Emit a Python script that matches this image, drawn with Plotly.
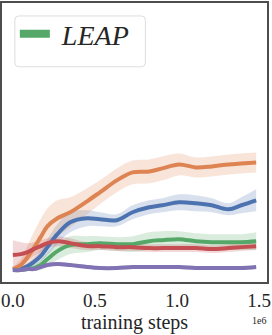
import plotly.graph_objects as go

# training steps (x 1e6)
steps = [0.0, 0.048, 0.09, 0.127, 0.169, 0.211, 0.271, 0.349, 0.452, 0.530,
         0.633, 0.729, 0.831, 0.910, 1.012, 1.114, 1.211, 1.313, 1.392, 1.482]

orange_mean = [2, 6, 14, 23, 34, 45, 53, 59, 70, 79, 91, 99, 100, 103, 107, 104, 105, 107, 108, 109]
orange_std = [2, 6, 12, 16, 18, 18, 18, 15, 13, 12, 12, 12, 12, 12, 11, 10, 10, 10, 10, 10]

blue_mean = [1, 2, 5, 9, 15, 24, 37, 49, 53, 52, 51, 59, 64, 66, 69, 68, 66, 62, 66, 71]
blue_std = [1, 2, 3, 4, 6, 8, 10, 10, 8, 7, 6, 7, 7, 7, 8, 8, 7, 6, 8, 11]

leap_mean = [1, 1, 2, 3, 6, 12, 20, 26, 27, 28, 27, 27, 30, 31, 32, 30, 29, 29, 29, 30]
leap_std = [1, 1, 2, 3, 5, 7, 9, 9, 8, 7, 7, 8, 9, 9, 8, 8, 8, 8, 8, 9]

red_mean = [16, 17, 19, 22, 25, 28, 30, 28, 25, 25, 24, 24, 23, 23, 23, 23, 22, 23, 24, 25]
red_std = [15, 12, 9, 7, 6, 5, 5, 5, 4, 4, 4, 4, 4, 4, 4, 4, 4, 4, 4, 4]

purple_mean = [1, 1, 2, 2, 4, 6, 7, 6, 4, 3, 3, 4, 4, 4, 4, 3, 3, 3, 3, 4]
purple_std = [1, 1, 1, 1, 1.5, 2, 2, 2, 2, 2, 2, 2, 2, 2, 2, 2, 2, 2, 2, 2]

x_ticks = [0.0, 0.5, 1.0, 1.5]
x_tick_labels = ["0.0", "0.5", "1.0", "1.5"]

series = [
    ("baseline A", blue_mean, blue_std, "#4C72B0", "rgba(76,114,176,0.22)", False),
    ("baseline B", orange_mean, orange_std, "#DD8452", "rgba(221,132,82,0.22)", False),
    ("LEAP", leap_mean, leap_std, "#55A868", "rgba(85,168,104,0.22)", True),
    ("baseline C", red_mean, red_std, "#C44E52", "rgba(196,78,82,0.22)", False),
    ("baseline D", purple_mean, purple_std, "#8172B3", "rgba(129,114,179,0.22)", False),
]

FONT = "Liberation Serif"
xs = [s * 1e6 for s in steps]

fig = go.Figure()
for name, m, sd, col, fcol, show in series:
    lo = [a - b for a, b in zip(m, sd)]
    hi = [a + b for a, b in zip(m, sd)]
    fig.add_trace(go.Scatter(x=xs, y=lo, mode="lines", line=dict(width=0, shape="spline"),
                             showlegend=False, hoverinfo="skip"))
    fig.add_trace(go.Scatter(x=xs, y=hi, mode="lines", line=dict(width=0, shape="spline"),
                             fill="tonexty", fillcolor=fcol, showlegend=False, hoverinfo="skip"))
for name, m, sd, col, fcol, show in series:
    fig.add_trace(go.Scatter(x=xs, y=m, mode="lines", name=name,
                             line=dict(color=col, width=4, shape="spline"),
                             showlegend=False, legendgroup=name))
    if show:
        # legend entry (thicker key line, as in the reference)
        fig.add_trace(go.Scatter(x=[None], y=[None], mode="lines",
                                 name="\u00a0<i>" + name + "</i>", legendgroup=name,
                                 line=dict(color=col, width=8), showlegend=True))

# rounded legend frame (pixel -> paper)
W, H = 268.0, 280.0
bx0, bx1 = (14 - 1) / W, (146 - 1) / W
by0, by1 = (281 - 65) / H, (281 - 14) / H
rx, ry = 4 / W, 4 / H
path = (f"M {bx0+rx},{by0} L {bx1-rx},{by0} Q {bx1},{by0} {bx1},{by0+ry} "
        f"L {bx1},{by1-ry} Q {bx1},{by1} {bx1-rx},{by1} L {bx0+rx},{by1} "
        f"Q {bx0},{by1} {bx0},{by1-ry} L {bx0},{by0+ry} Q {bx0},{by0} {bx0+rx},{by0} Z")

fig.update_layout(
    width=272, height=335,
    margin=dict(l=1, r=3, t=1, b=53),
    paper_bgcolor="white", plot_bgcolor="white",
    font=dict(family=FONT, color="#262626", size=18),
    shapes=[dict(type="path", path=path, xref="paper", yref="paper",
                 line=dict(color="#dddddd", width=1), fillcolor="rgba(255,255,255,0.8)",
                 layer="below")],
    legend=dict(x=bx0, y=(281 - 7) / H, xanchor="left", yanchor="top",
                bgcolor="rgba(0,0,0,0)", borderwidth=0,
                font=dict(family=FONT, size=28, color="#262626"),
                itemwidth=30),
    annotations=[dict(text="1e6", x=(261 - 1) / W, y=(281 - 312) / H, xref="paper", yref="paper",
                      xanchor="center", yanchor="top",
                      showarrow=False, font=dict(size=10, family=FONT, color="#262626"))],
    showlegend=True,
)
fig.update_xaxes(range=[-0.0663e6, 1.548e6], tickvals=[t * 1e6 for t in x_ticks],
                 ticktext=x_tick_labels, showgrid=False, zeroline=False,
                 showline=True, mirror=True, linecolor="#4d4d4d", linewidth=2, ticks="",
                 tickfont=dict(size=19), ticklabeloverflow="allow", ticklabelstandoff=0,
                 title=dict(text="training steps", font=dict(size=20), standoff=2))
fig.update_yaxes(range=[-11, 269], showticklabels=False, showgrid=False, zeroline=False,
                 showline=True, mirror=True, linecolor="#4d4d4d", linewidth=2, ticks="")
fig.write_html("out.html", post_script="document.body.style.margin='0';",
               config={"displayModeBar": False})
